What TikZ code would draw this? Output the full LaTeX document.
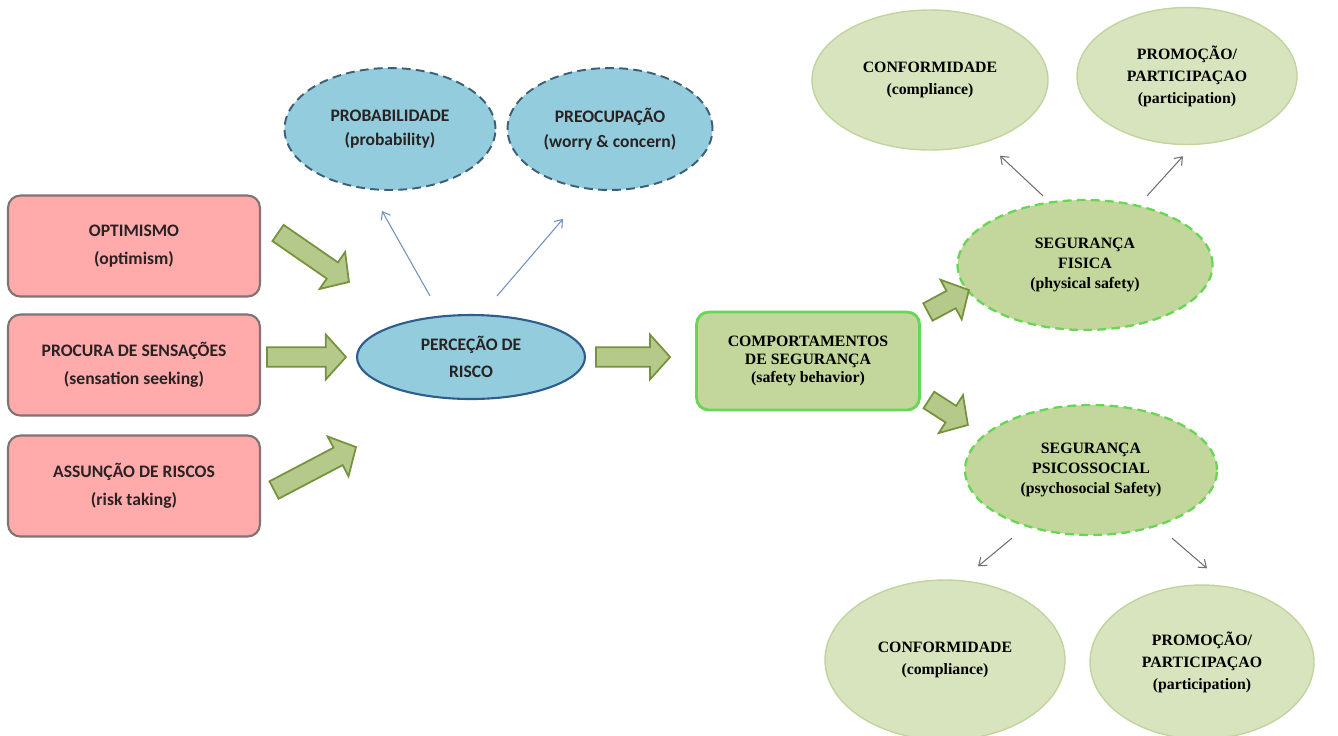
\documentclass[tikz,border=0pt]{standalone}
\usepackage{fontspec}
\usepackage{tikz}
\usetikzlibrary{shapes.geometric,calc,arrows.meta}

\newfontfamily\calib{Carlito}
\newfontfamily\tnr{Liberation Serif}

\definecolor{pinkfill}{HTML}{FFABAB}
\definecolor{pinkline}{HTML}{7F7373}
\definecolor{bluefill}{HTML}{93CDDD}
\definecolor{blueline}{HTML}{2C5D8C}
\definecolor{dashline}{HTML}{3E5F7A}
\definecolor{thinblue}{HTML}{7090C0}
\definecolor{greenfill}{HTML}{C3D69B}
\definecolor{greenline}{HTML}{66D655}
\definecolor{palefill}{HTML}{D7E4BD}
\definecolor{paleline}{HTML}{C2D49E}
\definecolor{arrfill}{HTML}{B4C98A}
\definecolor{arrline}{HTML}{76923C}
\definecolor{grayarr}{HTML}{707070}
\definecolor{darktext}{HTML}{2A2222}

\tikzset{
	pinkbox/.style={draw=pinkline, line width=1.2pt, fill=pinkfill, rounded corners=7pt,
		minimum width=5.04cm, minimum height=2.02cm, align=center, text=darktext,
		font=\calib\bfseries\fontsize{10}{16}\selectfont},
	blueell/.style={ellipse, draw=blueline, line width=1.2pt, fill=bluefill, inner sep=0pt,
		minimum width=4.56cm, minimum height=1.68cm, align=center, text=darktext,
		font=\calib\bfseries\fontsize{10}{15.5}\selectfont},
	dashell/.style={ellipse, draw=dashline, line width=1.1pt, dash pattern=on 5pt off 3pt,
		fill=bluefill, inner sep=0pt, minimum height=2.44cm, align=center, text=darktext,
		font=\calib\bfseries\fontsize{10}{14}\selectfont},
	greenbox/.style={draw=greenline, line width=1.6pt, fill=greenfill, rounded corners=7pt,
		minimum width=4.46cm, minimum height=1.96cm, align=center,
		font=\tnr\bfseries\fontsize{9}{10.5}\selectfont},
	segell/.style={ellipse, draw=greenline, line width=1.3pt, dash pattern=on 5pt off 3pt,
		fill=greenfill, inner sep=0pt, minimum height=2.6cm, align=center,
		font=\tnr\bfseries\fontsize{9}{11.5}\selectfont},
	paleell/.style={ellipse, draw=paleline, line width=0.8pt, fill=palefill, inner sep=0pt,
		align=center, font=\tnr\bfseries\fontsize{9}{12.5}\selectfont},
	fatarrow/.style={draw=arrline, line width=1pt, fill=arrfill, line join=miter},
	thinarrow/.style={draw=thinblue, line width=0.6pt, -{Straight Barb[length=4pt,width=6pt]}},
	grayarrow/.style={draw=grayarr, line width=0.6pt, -{Straight Barb[length=4pt,width=6pt]}}
}

% block arrow from #1 to #2
\newcommand{\blockarrow}[2]{%
	\path let \p1=(#1), \p2=(#2) in \pgfextra{%
		\pgfmathsetmacro{\barang}{atan2(\y2-\y1,\x2-\x1)}%
		\pgfmathsetmacro{\barlen}{veclen(\x2-\x1,\y2-\y1)}%
		\xdef\barang{\barang}\xdef\barlen{\barlen}};
	\draw[fatarrow, shift={(#1)}, rotate=\barang]
		(0pt,-5.6pt) -- (\barlen pt-11.5pt,-5.6pt) -- (\barlen pt-11.5pt,-12.8pt) -- (\barlen pt,0pt)
		-- (\barlen pt-11.5pt,12.8pt) -- (\barlen pt-11.5pt,5.6pt) -- (0pt,5.6pt) -- cycle;
}

\begin{document}
\begin{tikzpicture}[x=0.02cm, y=-0.02cm]
	\useasboundingbox (0,0) rectangle (1338,735);

	% factors
	\node[pinkbox] (opt) at (134,246) {OPTIMISMO\\(optimism)};
	\node[pinkbox] (proc) at (134,365) {PROCURA DE SENSAÇÕES\\(sensation seeking)};
	\node[pinkbox] (assu) at (134,486) {ASSUNÇÃO DE RISCOS\\(risk taking)};

	% risk perception
	\node[blueell] (perc) at (471,357) {PERCEÇÃO DE\\RISCO};
	\node[dashell, minimum width=4.22cm] (prob) at (390,129) {PROBABILIDADE\\(probability)};
	\node[dashell, minimum width=4.1cm] (preo) at (610,129) {PREOCUPAÇÃO\\(worry \& concern)};

	% safety behaviour
	\node[greenbox] (comp) at (808,361) {COMPORTAMENTOS\\DE SEGURANÇA\\(safety behavior)};
	\node[segell, minimum width=5.1cm] (fis) at (1085,265) {SEGURANÇA\\FISICA\\(physical safety)};
	\node[segell, minimum width=5.04cm] (psi) at (1091,470) {SEGURANÇA\\PSICOSSOCIAL\\(psychosocial Safety)};

	\node[paleell, minimum width=4.72cm, minimum height=2.8cm] (conf1) at (930,80) {CONFORMIDADE\\(compliance)};
	\node[paleell, minimum width=4.4cm, minimum height=2.74cm] (prom1) at (1187,76) {PROMOÇÃO/\\PARTICIPAÇAO\\(participation)};
	\node[paleell, minimum width=4.8cm, minimum height=3.2cm] (conf2) at (945,660) {CONFORMIDADE\\(compliance)};
	\node[paleell, minimum width=4.48cm, minimum height=3.08cm] (prom2) at (1202,662) {PROMOÇÃO/\\PARTICIPAÇAO\\(participation)};

	% thin arrows
	\draw[thinarrow] ($(perc.north)+(-41,-18)$) -- ($(prob.south)+(-8,20)$);
	\draw[thinarrow] ($(perc.north)+(26,-18)$) -- ($(preo.south)+(-47,28)$);
	\draw[grayarrow] ($(fis.north)+(-42,-3)$) -- ($(conf1.south)+(70,5)$);
	\draw[grayarrow] ($(fis.north)+(62,-3)$) -- ($(prom1.south)+(-4,11)$);
	\draw[grayarrow] ($(psi.south)+(-79,2)$) -- ($(conf2.north)+(33,-13)$);
	\draw[grayarrow] ($(psi.south)+(81,2)$) -- ($(prom2.north)+(5,-16)$);

	% block arrows
	\coordinate (a1) at ($(opt.east)+(17,-13)$);
	\coordinate (b1) at ($(opt.east)+(88,36)$);
	\coordinate (a2) at ($(perc.west)+(-89,0)$);
	\coordinate (b2) at ($(perc.west)+(-10,0)$);
	\coordinate (a3) at ($(assu.east)+(13,4)$);
	\coordinate (b3) at ($(assu.east)+(95,-39)$);
	\coordinate (a4) at ($(perc.east)+(10,0)$);
	\coordinate (b4) at ($(comp.west)+(-25,-4)$);
	\coordinate (a5) at ($(comp.east)+(7,-49)$);
	\coordinate (b5) at ($(comp.east)+(48,-71)$);
	\coordinate (a6) at ($(comp.east)+(8,39)$);
	\coordinate (b6) at ($(comp.east)+(47,64)$);
	\foreach \s/\e in {a1/b1,a2/b2,a3/b3,a4/b4,a5/b5,a6/b6}
		\blockarrow{\s}{\e};
\end{tikzpicture}
\end{document}
